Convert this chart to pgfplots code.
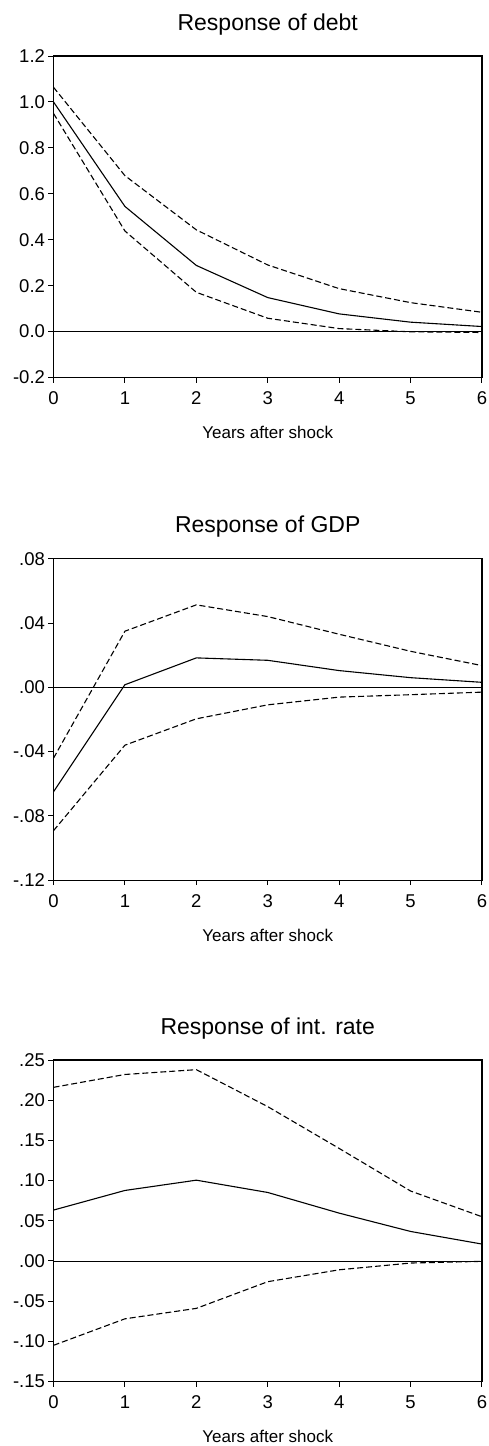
\documentclass[border=0pt]{standalone}
\usepackage{fontspec}
\setmainfont{Liberation Sans}
\usepackage{pgfplots}
\pgfplotsset{compat=1.18}

\pgfplotsset{irf/.style={
  width=428.5pt, height=321.5pt, scale only axis,
  xmin=0, xmax=6, xtick={0,...,6}, xticklabels={0,1,2,3,4,5,6},
  tick align=outside, tick pos=left, major tick length=5pt,
  axis line style={line width=1.3pt},
  every tick/.style={black, line width=1pt},
  tick label style={font=\fontsize{18.5}{20}\selectfont},
  xticklabel style={yshift=-6pt},
  title style={font=\fontsize{23}{26}\selectfont, anchor=base, yshift=20pt},
  xlabel={Years after shock},
  xlabel style={font=\fontsize{17}{19}\selectfont, at={(axis description cs:0.5,0)}, anchor=base, yshift=-61pt},
},
irfline/.style={black, mark=none, line width=1.1pt},
band/.style={black, mark=none, line width=1.1pt, dash pattern=on 6pt off 3pt},
zero/.style={black, mark=none, line width=0.8pt}}

\begin{document}
\begin{tikzpicture}
\path[use as bounding box] (0,0) rectangle (488pt,-1446pt);

% debt
\begin{axis}[irf, at={(53.5pt,-56pt)}, anchor=north west,
  title={Response of debt},
  ymin=-0.2, ymax=1.2, ytick={-0.2,0,0.2,0.4,0.6,0.8,1.0,1.2},
  yticklabels={-0.2,0.0,0.2,0.4,0.6,0.8,1.0,1.2}]
\addplot[zero] coordinates {(0,0) (6,0)};
\addplot[irfline] coordinates {(0,1.000) (1,0.545) (2,0.288) (3,0.148) (4,0.077) (5,0.041) (6,0.022)};
\addplot[band] coordinates {(0,1.064) (1,0.679) (2,0.443) (3,0.290) (4,0.187) (5,0.126) (6,0.084)};
\addplot[band] coordinates {(0,0.950) (1,0.438) (2,0.171) (3,0.058) (4,0.013) (5,-0.001) (6,-0.004)};
\end{axis}

% GDP
\begin{axis}[irf, at={(53.5pt,-558.7pt)}, anchor=north west,
  title={Response of GDP},
  ymin=-0.12, ymax=0.08, ytick={-0.12,-0.08,-0.04,0,0.04,0.08},
  yticklabels={-.12,-.08,-.04,.00,.04,.08}]
\addplot[zero] coordinates {(0,0) (6,0)};
\addplot[irfline] coordinates {(0,-0.065) (1,0.0016) (2,0.0183) (3,0.0168) (4,0.0104) (5,0.0060) (6,0.0031)};
\addplot[band] coordinates {(0,-0.0441) (1,0.0349) (2,0.0513) (3,0.0440) (4,0.0330) (5,0.0224) (6,0.0135)};
\addplot[band] coordinates {(0,-0.0892) (1,-0.0360) (2,-0.0196) (3,-0.0109) (4,-0.0061) (5,-0.0046) (6,-0.0030)};
\end{axis}

% interest rate
\begin{axis}[irf, at={(53.5pt,-1060pt)}, anchor=north west,
  title={Response of int. rate},
  ymin=-0.15, ymax=0.25, ytick={-0.15,-0.10,-0.05,0,0.05,0.10,0.15,0.20,0.25},
  yticklabels={-.15,-.10,-.05,.00,.05,.10,.15,.20,.25}]
\addplot[zero] coordinates {(0,0) (6,0)};
\addplot[irfline] coordinates {(0,0.0633) (1,0.0877) (2,0.1005) (3,0.0852) (4,0.0595) (5,0.0367) (6,0.0210)};
\addplot[band] coordinates {(0,0.216) (1,0.232) (2,0.238) (3,0.192) (4,0.140) (5,0.087) (6,0.055)};
\addplot[band] coordinates {(0,-0.105) (1,-0.072) (2,-0.059) (3,-0.0258) (4,-0.011) (5,-0.0026) (6,-0.0005)};
\end{axis}
\end{tikzpicture}
\end{document}
